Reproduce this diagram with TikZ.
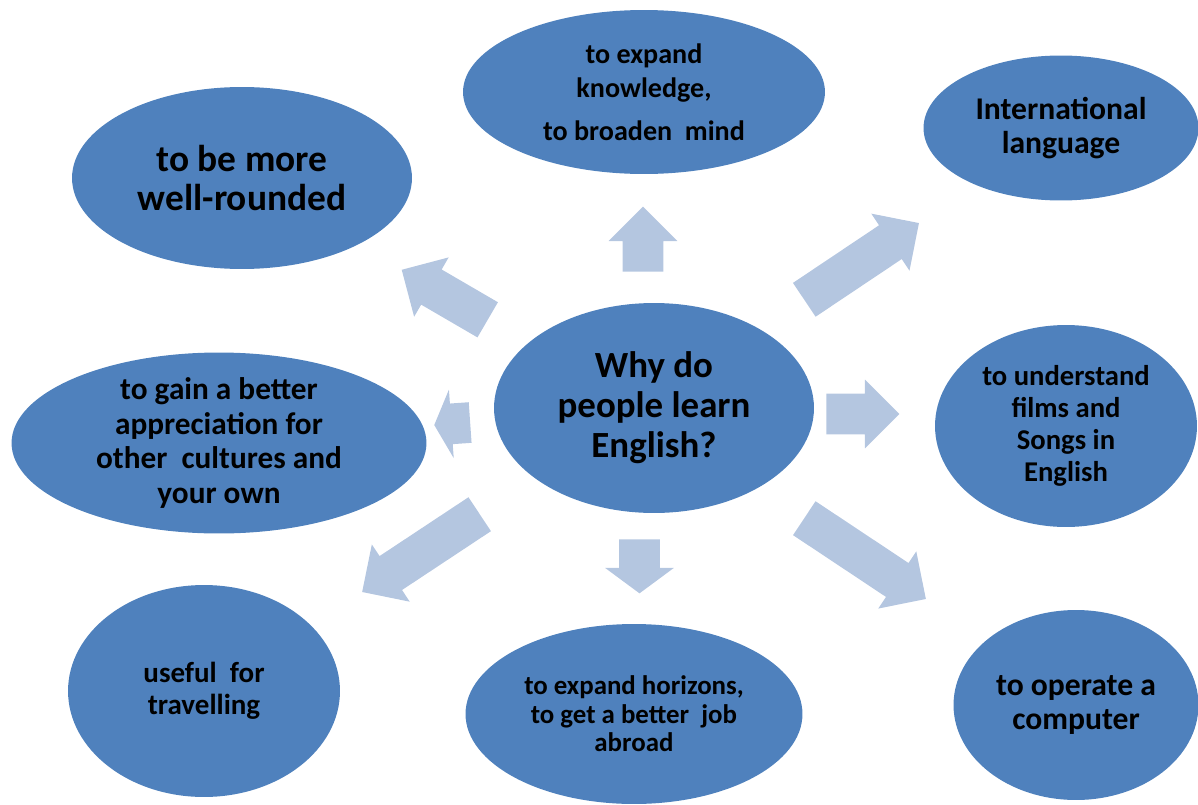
\documentclass[tikz,border=0pt]{standalone}
\usepackage{fontspec}
\setmainfont{Carlito}
\usetikzlibrary{shapes.geometric,shapes.arrows}
\definecolor{ellblue}{RGB}{79,129,189}
\definecolor{arrblue}{RGB}{180,198,224}
\begin{document}
\begin{tikzpicture}[x=0.02cm,y=-0.02cm,
  bubble/.style={ellipse, fill=ellblue, inner sep=0pt},
  lbl/.style={align=center, font=\bfseries, text=black, inner sep=0pt},
  blockarrow/.style={single arrow, fill=arrblue, inner xsep=0pt, inner ysep=0.4cm,
    single arrow head extend=0.28cm, single arrow head indent=0pt, anchor=tail}]
\useasboundingbox (0,0) rectangle (1198,805);
% ellipses
\node[bubble, minimum width=7.24cm, minimum height=3.28cm] (know) at (644,92) {};
\node[bubble, minimum width=6.8cm, minimum height=3.64cm] (round) at (242,178) {};
\node[bubble, minimum width=5.5cm, minimum height=2.9cm] (intl) at (1061,128) {};
\node[bubble, minimum width=8.3cm, minimum height=3.62cm] (gain) at (219,443) {};
\node[bubble, minimum width=6.4cm, minimum height=4.2cm] (why) at (654,408) {};
\node[bubble, minimum width=5.24cm, minimum height=4.04cm] (films) at (1066,426) {};
\node[bubble, minimum width=5.44cm, minimum height=4.24cm] (travel) at (204,691) {};
\node[bubble, minimum width=6.74cm, minimum height=3.6cm] (horiz) at (634,714) {};
\node[bubble, minimum width=4.9cm, minimum height=3.8cm] (comp) at (1076,705) {};
% labels
\node[lbl, font=\bfseries\fontsize{16}{19.3}\selectfont] (tknow) at (know.center) {to expand\\knowledge,\\[5pt]to broaden\ \ mind};
\node[lbl, font=\bfseries\fontsize{21.3}{22.7}\selectfont] (tround) at (round.center) {to be more\\well-rounded};
\node[lbl, font=\bfseries\fontsize{18}{19.5}\selectfont] (tintl) at (intl.center) {International\\language};
\node[lbl, font=\bfseries\fontsize{17.8}{19.6}\selectfont] (tgain) at (gain.center) {to gain a better\\appreciation for\\other\ \ cultures and\\your own};
\node[lbl, font=\bfseries\fontsize{21}{22.7}\selectfont] (twhy) at (why.center) {Why do\\people learn\\English?};
\node[lbl, font=\bfseries\fontsize{16.3}{18.1}\selectfont] (tfilms) at (films.center) {to understand\\films and\\Songs in\\English};
\node[lbl, font=\bfseries\fontsize{16.5}{18.1}\selectfont] (ttravel) at (travel.center) {useful\ \ for\\travelling};
\node[lbl, font=\bfseries\fontsize{15.3}{16.3}\selectfont] (thoriz) at (horiz.center) {to expand horizons,\\to get a better\ \ job\\abroad};
\node[lbl, font=\bfseries\fontsize{18}{19.3}\selectfont] (tcomp) at (comp.center) {to operate a\\computer};
% block arrows (placed by their tails)
\node[blockarrow, minimum height=1.30cm, rotate=90] (a1) at (643,272) {};
\node[blockarrow, minimum height=1.99cm, rotate=149.8] (a2) at (488,320) {};
\node[blockarrow, minimum height=2.76cm, rotate=33.8] (a3) at (804,300) {};
\node[blockarrow, minimum height=0.72cm, rotate=184, single arrow tip angle=127] (a4) at (470.5,422.5) {};
\node[blockarrow, minimum height=1.46cm, rotate=0] (a5) at (826,414) {};
\node[blockarrow, minimum height=2.82cm, rotate=213.5] (a6) at (480,514) {};
\node[blockarrow, minimum height=1.08cm, rotate=270, single arrow tip angle=107] (a7) at (639.5,539) {};
\node[blockarrow, minimum height=2.92cm, rotate=-33.6] (a8) at (804,518) {};
\end{tikzpicture}
\end{document}
